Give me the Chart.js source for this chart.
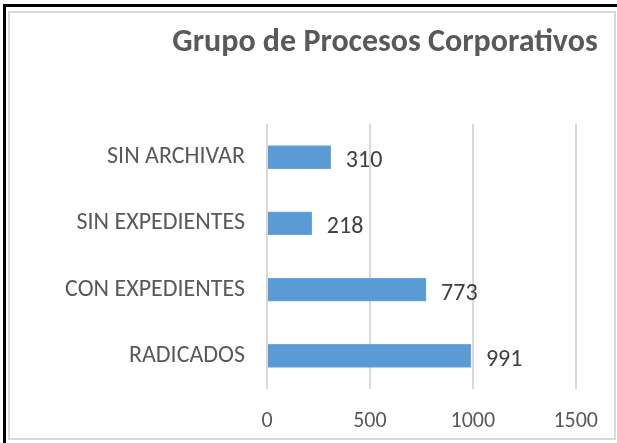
<!DOCTYPE html>
<html lang="es">
<head>
  <meta charset="UTF-8">
  <title>Grupo de Procesos Corporativos</title>
  <script src="https://cdn.jsdelivr.net/npm/chart.js"></script>
  <style>
    html, body { margin: 0; padding: 0; background: #fff; }
    #wrap { position: relative; width: 617px; height: 443px; overflow: hidden; }
    /* outer black frame (top + left) */
    #frameTop  { position: absolute; left: 4px; top: 4px; width: 613px; height: 3px; background: #000; }
    #frameLeft { position: absolute; left: 3px; top: 4px; width: 3px; height: 439px; background: #000; }
    /* light grey chart border */
    #chartBox { position: absolute; left: 8px; top: 11px; width: 604px; height: 425px; border: 2px solid #d9d9d9; }
    canvas { position: absolute; left: 0; top: 0; }
  </style>
</head>
<body>
  <div id="wrap">
    <div id="frameTop"></div>
    <div id="frameLeft"></div>
    <div id="chartBox"></div>
    <canvas id="barChart" width="617" height="443"></canvas>
  </div>
  <script>
    // data
    const categories = ['SIN ARCHIVAR', 'SIN EXPEDIENTES', 'CON EXPEDIENTES', 'RADICADOS'];
    const values     = [310, 218, 773, 991];
    const xTicks     = [0, 500, 1000, 1500];
    const chartTitle = 'Grupo de Procesos Corporativos';

    const FONT = "Carlito, Calibri, Lato, sans-serif";

    // value labels to the right of each bar
    const valueLabels = {
      id: 'valueLabels',
      afterDatasetsDraw(chart) {
        const ctx = chart.ctx;
        const meta = chart.getDatasetMeta(0);
        ctx.save();
        ctx.font = '24px ' + FONT;
        ctx.fillStyle = '#404040';
        ctx.textAlign = 'left';
        ctx.textBaseline = 'middle';
        meta.data.forEach((bar, i) => {
          ctx.fillText(String(values[i]), bar.x + 15, bar.y + 4);
        });
        ctx.restore();
      }
    };

    // title placed like the original (right of centre)
    const titlePlugin = {
      id: 'titlePlugin',
      afterDraw(chart) {
        const ctx = chart.ctx;
        ctx.save();
        ctx.font = 'bold 32px ' + FONT;
        ctx.fillStyle = '#595959';
        ctx.textAlign = 'center';
        ctx.textBaseline = 'middle';
        ctx.fillText(chartTitle, 385, 43);
        ctx.restore();
      }
    };

    const ctx = document.getElementById('barChart').getContext('2d');
    const barChart = new Chart(ctx, {
      type: 'bar',
      data: {
        labels: categories,
        datasets: [{
          data: values,
          backgroundColor: '#5B9BD5',
          borderColor: '#6FA8DC',
          borderWidth: 1,
          barThickness: 23
        }]
      },
      options: {
        indexAxis: 'y',
        responsive: false,
        animation: false,
        layout: { padding: { left: 8, right: 39, top: 124, bottom: 0 } },
        plugins: {
          legend: { display: false },
          tooltip: { enabled: false },
          title: { display: false }
        },
        scales: {
          x: {
            min: 0,
            max: 1500,
            afterBuildTicks: (scale) => { scale.ticks = xTicks.map(v => ({ value: v })); },
            afterFit: (scale) => { scale.height = 54; },
            grid: { color: '#d9d9d9', lineWidth: 2, drawTicks: false },
            border: { display: false },
            ticks: {
              color: '#595959',
              font: { family: FONT, size: 22 },
              padding: 19,
              callback: (v) => String(v)
            }
          },
          y: {
            afterFit: (scale) => { scale.width = 259; },
            grid: { display: false, drawTicks: false },
            border: { display: false },
            ticks: { color: '#595959', font: { family: FONT, size: 24 }, padding: 22 }
          }
        }
      },
      plugins: [valueLabels, titlePlugin]
    });
  </script>
</body>
</html>
